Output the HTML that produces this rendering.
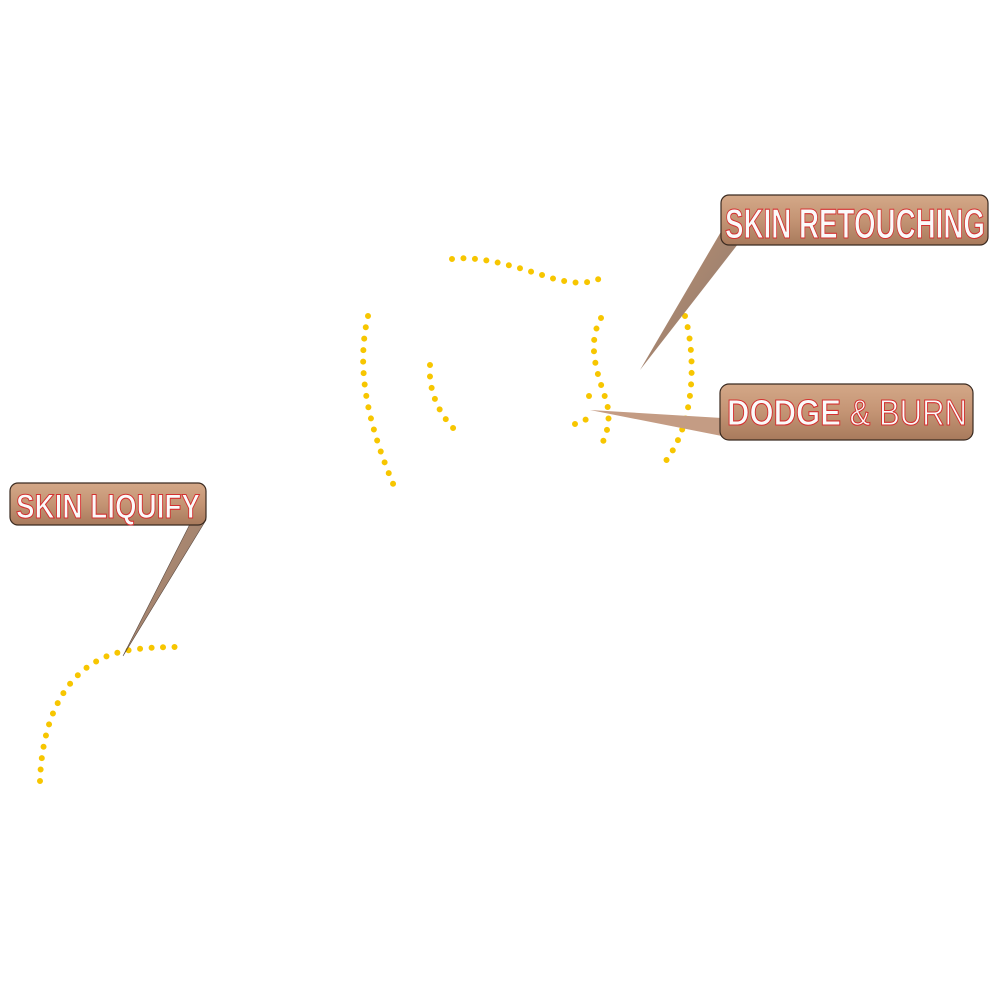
<!DOCTYPE html>
<html><head><meta charset="utf-8"><style>
html,body{margin:0;padding:0;background:#fff;width:1000px;height:1000px;overflow:hidden}
</style></head><body>
<svg width="1000" height="1000" viewBox="0 0 1000 1000" xmlns="http://www.w3.org/2000/svg">
<defs>
<linearGradient id="g" x1="0" y1="0" x2="0" y2="1">
<stop offset="0" stop-color="#d4a888"/><stop offset="0.5" stop-color="#c49474"/><stop offset="1" stop-color="#a87a5c"/>
</linearGradient>
<linearGradient id="t" x1="0" y1="0" x2="1" y2="1">
<stop offset="0" stop-color="#c09070"/><stop offset="1" stop-color="#8a7a70"/>
</linearGradient>
</defs>
<g fill="none" stroke="#f7c600" stroke-width="6" stroke-linecap="round" stroke-dasharray="0 11.5">
<path d="M452,259 C480,255 520,268 545,276 C575,286 595,284 607,274"/>
<path d="M368,316 C358,360 362,410 394,486"/>
<path d="M430,365 C428,392 440,415 455,430"/>
<path d="M601,318 C586,345 598,375 606,400 C612,420 606,435 602,444"/>
<path d="M685,316 C697,360 695,430 660,468"/>
<path d="M575,424 C580,422 584,420 590,418"/>
<path d="M589,396 C589,400 590,404 590,406"/>
<path d="M40,781 C42,720 65,660 130,650 C150,647 170,647 182,647"/>
</g>
<polygon points="722,230 738,244 640,370" fill="url(#t)"/>
<polygon points="722,418 732,438 590,410" fill="#c49c84"/>
<polygon points="190,524 206,520 123,656" fill="url(#t)" stroke="#5a4a40" stroke-width="0.6"/>
<rect x="721" y="195" width="267" height="50" rx="8" fill="url(#g)" stroke="#3a2a20" stroke-width="1.2"/>
<rect x="720" y="384" width="253" height="56" rx="9" fill="url(#g)" stroke="#3a2a20" stroke-width="1.2"/>
<rect x="10" y="483" width="196" height="42" rx="8" fill="url(#g)" stroke="#3a2a20" stroke-width="1.2"/>
<g font-family="'Liberation Sans Narrow','Liberation Sans',sans-serif" font-weight="bold" fill="#fafafa" stroke="#d43030" stroke-width="1.1">
<text x="725" y="238" font-size="42" textLength="260" lengthAdjust="spacingAndGlyphs">SKIN RETOUCHING</text>
<text x="727" y="425" font-size="36" textLength="240" lengthAdjust="spacingAndGlyphs">DODGE <tspan font-weight="normal">&amp; BURN</tspan></text>
<text x="16" y="518" font-size="34" textLength="184" lengthAdjust="spacingAndGlyphs">SKIN LIQUIFY</text>
</g>
</svg>
</body></html>
